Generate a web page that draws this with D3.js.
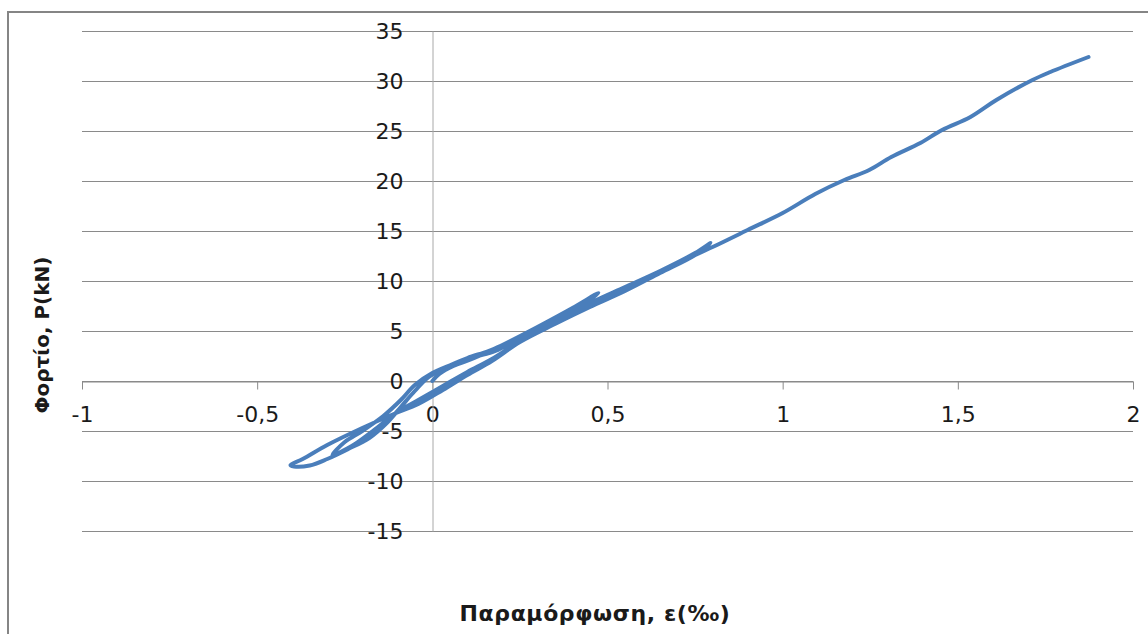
<!DOCTYPE html>
<html>
<head>
<meta charset="utf-8">
<script src="https://cdn.jsdelivr.net/npm/d3@7"></script>
<style>
  html, body { margin: 0; padding: 0; background: #fff; }
  svg { display: block; }
</style>
</head>
<body>
<svg id="chart" width="1148" height="634"></svg>
<script>
// Strain (‰) and load (kN) readings, in test order
const strain = [
  0, 0.02, 0.06, 0.12, 0.2, 0.3, 0.4, 0.474,
  0.44, 0.35, 0.25, 0.17, 0.1, 0.03, -0.04, -0.1, -0.17, -0.23, -0.285,
  -0.25, -0.2, -0.14, -0.09, -0.05, 0.0, 0.06, 0.12, 0.18, 0.25, 0.35, 0.45, 0.55, 0.65, 0.75, 0.794,
  0.75, 0.65, 0.55, 0.45, 0.35, 0.25, 0.17, 0.1, 0.03, -0.04, -0.11, -0.2, -0.3, -0.37, -0.405,
  -0.395, -0.35, -0.3, -0.24, -0.18, -0.13, -0.09, -0.05, -0.01, 0.04, 0.1, 0.16, 0.22, 0.3, 0.4, 0.5, 0.6, 0.7, 0.8, 0.9,
  1.0, 1.093, 1.176, 1.247, 1.31, 1.393, 1.455, 1.536, 1.61, 1.713, 1.764, 1.873
];
const load = [
  0, 0.7, 1.5, 2.3, 3.6, 5.4, 7.3, 8.8,
  7.9, 6.1, 4.0, 2.2, 0.9, -0.5, -1.9, -3.1, -5.0, -6.5, -7.4,
  -6.1, -5.0, -3.5, -1.9, -0.4, 0.8, 1.7, 2.4, 3.0, 4.3, 6.0, 7.8, 9.4, 11.0, 12.8, 13.8,
  12.6, 10.8, 9.0, 7.4, 5.7, 3.9, 2.0, 0.6, -0.9, -2.3, -3.3, -4.7, -6.4, -7.8, -8.4,
  -8.55, -8.45, -7.8, -6.8, -5.7, -4.2, -2.6, -1.0, 0.4, 1.4, 2.3, 3.0, 3.9, 5.1, 6.8, 8.4, 10.0, 11.8, 13.4, 15.1,
  16.8, 18.7, 20.1, 21.1, 22.4, 23.8, 25.1, 26.4, 28.1, 30.1, 30.9, 32.4
];
const xTicks = [-1, -0.5, 0, 0.5, 1, 1.5, 2];
const yTicks = [35, 30, 25, 20, 15, 10, 5, 0, -5, -10, -15];
const xTitle = "Παραμόρφωση, ε(‰)";
const yTitle = "Φορτίο, P(kN)";

const svg = d3.select("#chart");
const gridColor = "#8a8a8a";
const tickFont = "DejaVu Sans, Verdana, sans-serif";

const x = d3.scaleLinear().domain([-1, 2]).range([82, 1133]);
const y = d3.scaleLinear().domain([-15, 35]).range([531, 31]);
const fmt = v => String(v).replace(".", ",");

// chart area frame
svg.append("rect")
  .attr("x", 8).attr("y", 12).attr("width", 1300).attr("height", 800)
  .attr("fill", "none").attr("stroke", "#858585").attr("stroke-width", 2);

// horizontal gridlines
svg.append("g").selectAll("line").data(yTicks).join("line")
  .attr("x1", x(-1)).attr("x2", x(2))
  .attr("y1", d => Math.round(y(d)) + 0.5).attr("y2", d => Math.round(y(d)) + 0.5)
  .attr("stroke", gridColor).attr("stroke-width", 1);

// x axis through zero load
const xAxis = d3.axisBottom(x).tickValues(xTicks).tickFormat(fmt).tickSize(8).tickSizeOuter(0);
const gx = svg.append("g")
  .attr("transform", `translate(0,${Math.round(y(0)) + 0.5})`)
  .call(xAxis);
gx.select(".domain").attr("stroke", gridColor);
gx.selectAll(".tick line").attr("stroke", gridColor);
gx.selectAll(".tick text")
  .attr("y", 25).attr("dy", "0.71em")
  .attr("fill", "#1a1a1a")
  .style("font-family", tickFont).style("font-size", "22px");

// y axis through zero strain
const yAxis = d3.axisLeft(y).tickValues(yTicks).tickFormat(fmt).tickSize(0).tickPadding(29);
const gy = svg.append("g")
  .attr("transform", `translate(${Math.round(x(0)) + 0.5},0)`)
  .call(yAxis);
gy.select(".domain").attr("stroke", "#a8a8a8");
gy.selectAll(".tick text")
  .attr("fill", "#1a1a1a")
  .style("font-family", tickFont).style("font-size", "22px");

// load–strain curve
const pts = strain.map((s, i) => [s, load[i]]);
const line = d3.line()
  .x(d => x(d[0])).y(d => y(d[1]))
  .curve(d3.curveCatmullRom.alpha(0.5));
svg.append("path")
  .datum(pts)
  .attr("d", line)
  .attr("fill", "none")
  .attr("stroke", "#4A7EBB")
  .attr("stroke-width", 4)
  .attr("stroke-linejoin", "round")
  .attr("stroke-linecap", "round");

// axis titles
svg.append("text")
  .attr("x", 595).attr("y", 621)
  .attr("text-anchor", "middle")
  .style("font-family", tickFont).style("font-weight", "bold").style("font-size", "22px")
  .style("letter-spacing", "0.6px")
  .attr("fill", "#1a1a1a")
  .text(xTitle);

svg.append("text")
  .attr("transform", "translate(49,335) rotate(-90)")
  .attr("text-anchor", "middle")
  .style("font-family", tickFont).style("font-weight", "bold").style("font-size", "20px")
  .attr("fill", "#1a1a1a")
  .text(yTitle);
</script>
</body>
</html>
